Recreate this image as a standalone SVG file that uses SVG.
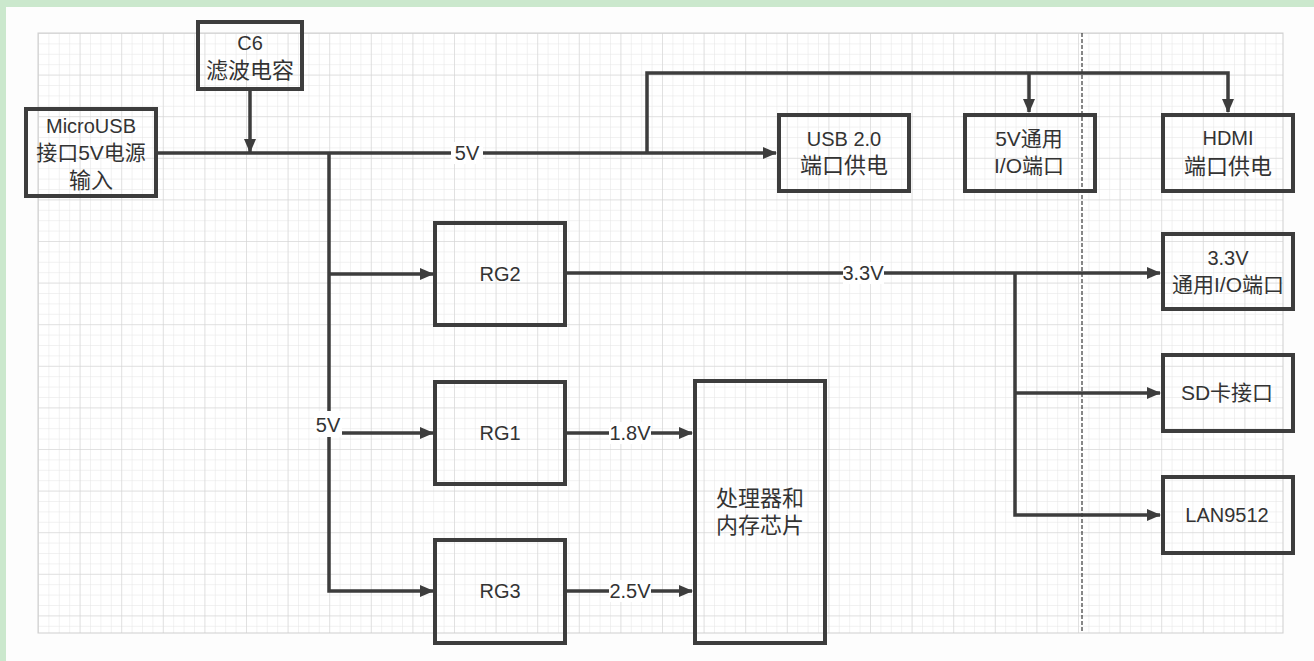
<svg xmlns="http://www.w3.org/2000/svg" width="1314" height="661" viewBox="0 0 1314 661">
<style>
.box{fill:none;stroke:#3d3d3d;stroke-width:4}
.ln{fill:none;stroke:#3d3d3d;stroke-width:3.5}
.t{font-family:"Liberation Sans","Noto Sans CJK SC",sans-serif;font-size:20px;fill:#333;text-anchor:middle}
.m{font-size:21px}
.c{font-size:22px}
.lb{fill:#fff}
</style>
<defs>
<pattern id="minor" x="38" y="33" width="10.4" height="10.4" patternUnits="userSpaceOnUse">
<path d="M0,0 V10.4 M0,0 H10.4" stroke="#e4e4e4" stroke-width="1" fill="none"/>
</pattern>
<pattern id="major" x="38" y="33" width="41.6" height="41.6" patternUnits="userSpaceOnUse">
<path d="M0,0 V41.6 M0,0 H41.6" stroke="#d2d2d2" stroke-width="1" fill="none"/>
</pattern>
<marker id="arr" viewBox="0 0 14 12" refX="13" refY="6" markerWidth="14" markerHeight="12" markerUnits="userSpaceOnUse" orient="auto">
<path d="M0,0 L14,6 L0,12 z" fill="#3d3d3d"/>
</marker>
</defs>
<rect width="1314" height="661" fill="#fdfdfd"/>
<rect x="0" y="0" width="1314" height="7" fill="#cbe8cd"/>
<rect x="0" y="0" width="6" height="661" fill="#cbe8cd"/>
<rect x="38" y="33" width="1245" height="600" fill="#fff"/>
<rect x="38" y="33" width="1245" height="600" fill="url(#minor)"/>
<rect x="38" y="33" width="1245" height="600" fill="url(#major)"/>
<rect x="38" y="33" width="1245" height="600" fill="none" stroke="#cfcfcf" stroke-width="1"/>
<line x1="1082" y1="33" x2="1082" y2="633" stroke="#111" stroke-width="1" stroke-dasharray="4 2"/>

<g id="connectors">
<path class="ln" d="M158,153 H776" marker-end="url(#arr)"/>
<path class="ln" d="M250,91 V152" marker-end="url(#arr)"/>
<path class="ln" d="M647,153 V73 H1228 V112" marker-end="url(#arr)"/>
<path class="ln" d="M1029,73 V112" marker-end="url(#arr)"/>
<path class="ln" d="M329,153 V591 H433" marker-end="url(#arr)"/>
<path class="ln" d="M329,274 H433" marker-end="url(#arr)"/>
<path class="ln" d="M329,433 H433" marker-end="url(#arr)"/>
<path class="ln" d="M567,273 H1160" marker-end="url(#arr)"/>
<path class="ln" d="M1015,273 V515 H1160" marker-end="url(#arr)"/>
<path class="ln" d="M1015,393 H1160" marker-end="url(#arr)"/>
<path class="ln" d="M567,433 H692" marker-end="url(#arr)"/>
<path class="ln" d="M567,591 H692" marker-end="url(#arr)"/>
<rect class="lb" x="451" y="142" width="32" height="22"/>
<text class="t" x="467" y="160">5V</text>
<rect class="lb" x="314" y="411" width="28" height="26"/>
<text class="t" x="328" y="432">5V</text>
<rect class="lb" x="843" y="262" width="41" height="22"/>
<text class="t" x="863" y="280">3.3V</text>
<rect class="lb" x="609" y="422" width="42" height="22"/>
<text class="t" x="630" y="440">1.8V</text>
<rect class="lb" x="609" y="580" width="42" height="22"/>
<text class="t" x="630" y="598">2.5V</text>
</g>

<g id="microusb">
<rect class="box" x="26" y="109" width="130" height="87"/>
<text class="t" x="91" y="133">MicroUSB</text>
<text class="t m" x="91" y="160">接口5V电源</text>
<text class="t c" x="91" y="188">输入</text>
</g>
<g id="c6">
<rect class="box" x="198" y="22" width="104" height="67"/>
<text class="t" x="250" y="50">C6</text>
<text class="t c" x="250" y="78">滤波电容</text>
</g>
<g id="usb20">
<rect class="box" x="779" y="115" width="130" height="76"/>
<text class="t" x="844" y="146">USB 2.0</text>
<text class="t c" x="844" y="173">端口供电</text>
</g>
<g id="io5v">
<rect class="box" x="965" y="115" width="130" height="76"/>
<text class="t m" x="1029" y="146">5V通用</text>
<text class="t m" x="1029" y="173">I/O端口</text>
</g>
<g id="hdmi">
<rect class="box" x="1163" y="115" width="130" height="76"/>
<text class="t" x="1228" y="145">HDMI</text>
<text class="t c" x="1228" y="174">端口供电</text>
</g>
<g id="io33v">
<rect class="box" x="1163" y="234" width="130" height="75"/>
<text class="t" x="1228" y="265">3.3V</text>
<text class="t m" x="1228" y="292">通用I/O端口</text>
</g>
<g id="sd">
<rect class="box" x="1163" y="355" width="130" height="76"/>
<text class="t m" x="1227" y="400">SD卡接口</text>
</g>
<g id="lan">
<rect class="box" x="1163" y="477" width="130" height="76"/>
<text class="t" x="1227" y="522">LAN9512</text>
</g>
<g id="rg2">
<rect class="box" x="435" y="223" width="130" height="102"/>
<text class="t" x="500" y="281">RG2</text>
</g>
<g id="rg1">
<rect class="box" x="435" y="382" width="130" height="102"/>
<text class="t" x="500" y="440">RG1</text>
</g>
<g id="rg3">
<rect class="box" x="435" y="540" width="130" height="103"/>
<text class="t" x="500" y="598">RG3</text>
</g>
<g id="cpu">
<rect class="box" x="695" y="381" width="130" height="262"/>
<text class="t c" x="760" y="506">处理器和</text>
<text class="t c" x="760" y="533">内存芯片</text>
</g>
</svg>
